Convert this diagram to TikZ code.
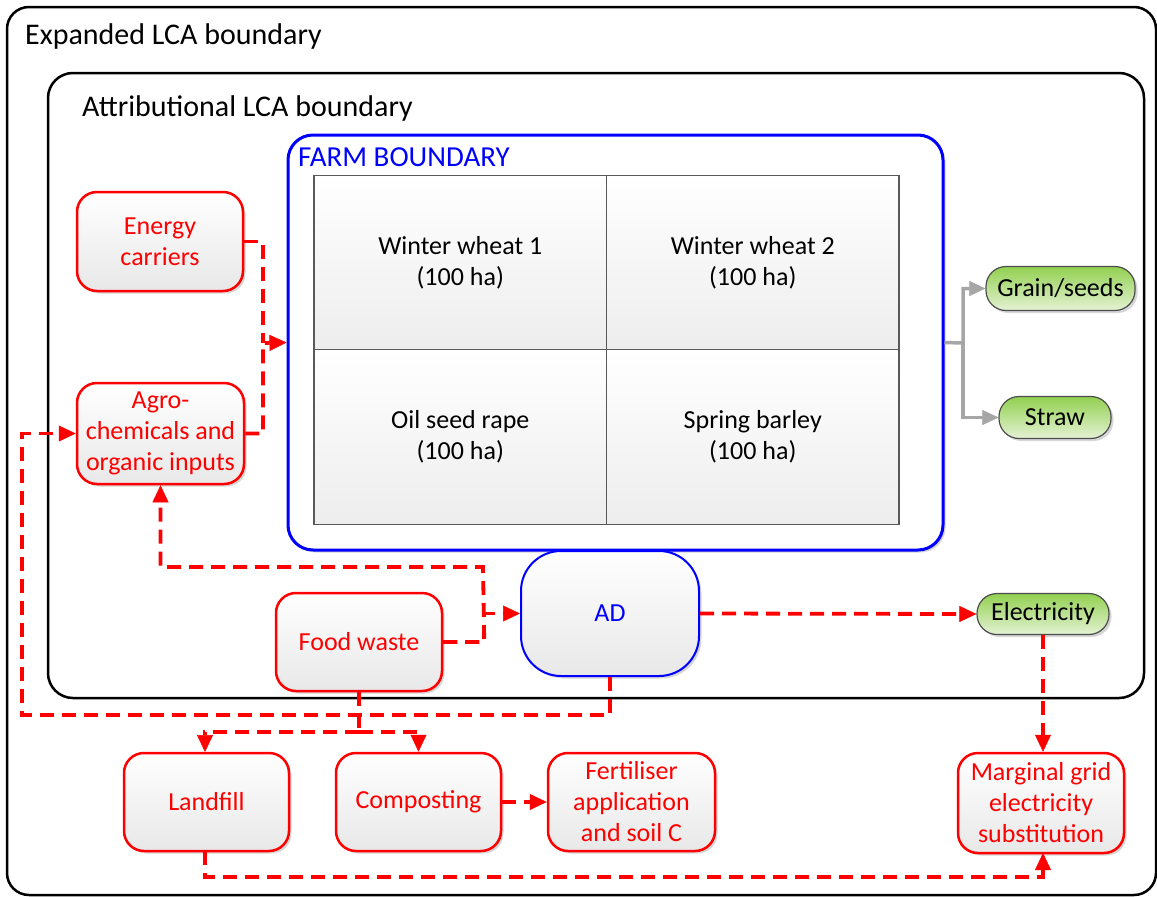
\documentclass[tikz,border=0pt]{standalone}
\usepackage{fontspec}
\setmainfont{Carlito}
\usetikzlibrary{arrows.meta,shadows,calc}
\definecolor{boxred}{RGB}{255,0,0}
\definecolor{boxblue}{RGB}{0,0,255}
\definecolor{leafgreen}{RGB}{146,208,80}
\definecolor{leafpale}{RGB}{228,242,212}
\definecolor{outgray}{RGB}{166,166,166}

\begin{document}
\begin{tikzpicture}[x=1pt,y=-1pt,
  body/.style={font=\fontsize{26}{31}\selectfont},
  heading/.style={font=\fontsize{30}{36}\selectfont, inner sep=0pt, anchor=base west},
  softshadow/.style={drop shadow={shadow xshift=2.5pt,shadow yshift=-2.5pt,fill=black,opacity=0.16}},
  frame/.style={draw=black, line width=2.5pt, inner sep=0pt},
  redbox/.style={body, draw=boxred, line width=2.5pt, rounded corners=20pt, text=boxred,
    align=center, top color=white, bottom color=black!9, softshadow, inner sep=0pt},
  adbox/.style={body, draw=boxblue, line width=2pt, rounded corners=40pt, text=boxblue,
    top color=white, bottom color=black!9, softshadow, inner sep=0pt},
  farmbox/.style={draw=boxblue, line width=3pt, rounded corners=25pt, fill=white, softshadow, inner sep=0pt},
  cellbox/.style={body, draw=black!65, line width=1.2pt, top color=white, bottom color=black!7,
    align=center, inner sep=0pt, minimum width=292.5pt, minimum height=174.5pt},
  greenpill/.style={body, draw=black!70, line width=1.2pt, rounded corners=20pt,
    top color=leafgreen, bottom color=leafpale, inner sep=0pt, softshadow},
  flow/.style={draw=boxred, line width=3.8pt, dash pattern=on 14pt off 8pt},
  redtip/.style={-{Triangle[length=17pt,width=16pt,line width=0.5pt]}},
  output/.style={draw=outgray, line width=3.5pt, -{Triangle[length=16pt,width=15pt,line width=0.5pt]}}
]
% canvas
\fill[white] (0,0) rectangle (1157,897);
\useasboundingbox (0,0) rectangle (1157,897);

% system boundaries
\node[frame, rounded corners=22pt, minimum width=1149pt, minimum height=888pt] (expanded) at (581.5,451) {};
\node[heading] (expandedlabel) at (25,44) {Expanded LCA boundary};
\node[frame, rounded corners=25pt, minimum width=1096pt, minimum height=625pt] (attributional) at (596,385.5) {};
\node[heading] (attributionallabel) at (82,116) {Attributional LCA boundary};

% farm and its four fields
\node[farmbox, minimum width=655pt, minimum height=415pt] (farm) at (615.5,342.5) {};
\node[heading, text=boxblue, font=\fontsize{29}{34}\selectfont] (farmlabel) at (298,166) {FARM BOUNDARY};
\node[cellbox] (ww1) at (460.25,262.5) {Winter wheat 1\\(100 ha)};
\node[cellbox] (ww2) at (752.75,262.5) {Winter wheat 2\\(100 ha)};
\node[cellbox] (osr) at (460.25,437) {Oil seed rape\\(100 ha)};
\node[cellbox] (sb)  at (752.75,437) {Spring barley\\(100 ha)};

% inputs and processes
\node[redbox, minimum width=166pt, minimum height=99pt] (energy) at (160,241.5) {Energy\\carriers};
\node[redbox, minimum width=167pt, minimum height=101pt] (agro) at (160.5,433.5) {Agro-\\chemicals and\\organic inputs};
\node[redbox, minimum width=166pt, minimum height=98pt] (food) at (359,642) {Food waste};
\node[adbox, minimum width=178pt, minimum height=125pt] (ad) at (610,613.5) {AD};
\node[redbox, minimum width=165pt, minimum height=98pt] (landfill) at (206.5,802) {Landfill};
\node[redbox, minimum width=165pt, minimum height=98pt] (compost) at (418.5,802) {Composting};
\node[redbox, minimum width=167pt, minimum height=98pt] (fert) at (631.5,802) {Fertiliser\\application\\and soil C};
\node[redbox, minimum width=166pt, minimum height=100pt] (grid) at (1041,803) {Marginal grid\\electricity\\substitution};

% products
\node[greenpill, minimum width=149pt, minimum height=44pt] (grain) at (1060.5,288.5) {Grain/seeds};
\node[greenpill, minimum width=112pt, minimum height=42pt] (straw) at (1055,417.5) {Straw};
\node[greenpill, minimum width=132pt, minimum height=41pt] (elec) at (1043,614) {Electricity};

% routing points
\coordinate (inmerge) at (263,343);
\coordinate (outsplit) at (963,343);
\coordinate (digestate) at (483,567);
\coordinate (loopleft) at (22,715);
\coordinate (fsplit) at (359,732);
\coordinate (landfillrun) at (205,877);

% inputs into the farm
\draw[flow] (energy.east) -| (inmerge);
\draw[flow, redtip] (agro.east) -| (inmerge) -- (farm.west);

% farm outputs
\draw[output] (farm.east) -- (outsplit) |- (grain.west);
\draw[output] (outsplit) |- (straw.west);

% food waste to AD and digestate back to the farm inputs
\draw[flow, redtip] (food.east) -- ++(41,0) |- (ad.west);
\draw[flow, redtip] (food.east) -- ++(41,0) -- (digestate) -| (agro.south);
\draw[flow, redtip] (ad.south) |- (loopleft) |- (agro.west);

% electricity
\draw[flow, redtip] (ad.east) -- (elec.west);
\draw[flow, redtip] (elec.south) -- (elec.south |- grid.north);

% alternative food waste routes
\draw[flow] (food.south) -- (fsplit);
\draw[flow, redtip] (fsplit) -| (205,752);
\draw[flow, redtip] (fsplit) -| (compost.north);
\draw[flow, redtip] (compost.east) -- (fert.west);
\draw[flow, redtip] (205,851) -- (landfillrun) -| (1043,853);
\end{tikzpicture}
\end{document}
